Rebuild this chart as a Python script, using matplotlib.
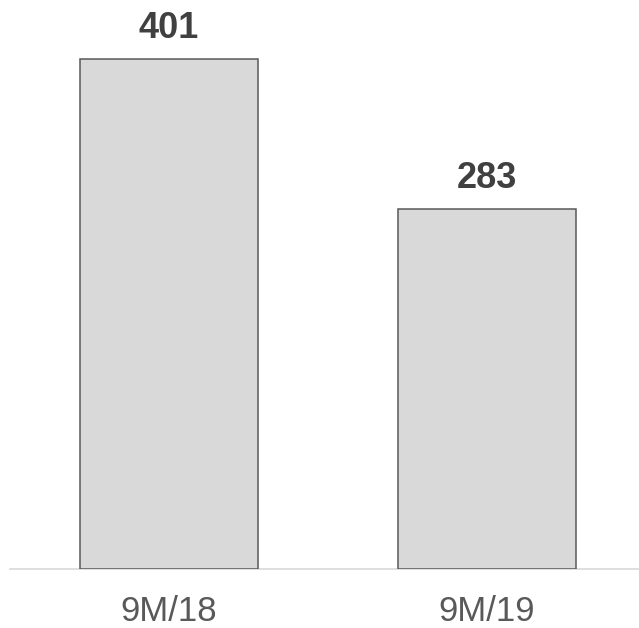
import matplotlib
matplotlib.use("Agg")
import matplotlib.pyplot as plt

plt.rcParams['font.family'] = ['Liberation Sans', 'DejaVu Sans']

periods = ['9M/18', '9M/19']
values = [401, 283]

fig = plt.figure(figsize=(6.39, 6.28), dpi=100)
ax = fig.add_axes([10 / 639, 59 / 628, 629 / 639, 569 / 628])

x = range(len(periods))
bars = ax.bar(x, values, width=0.56, color='#d9d9d9', edgecolor='#595959', linewidth=1.1, zorder=2)

for b, v in zip(bars, values):
    ax.annotate(str(v), (b.get_x() + b.get_width() / 2, b.get_height()),
                xytext=(0, 15), textcoords='offset points', ha='center', va='baseline',
                fontsize=26, fontweight='bold', color='#404040')

ax.set_xlim(-0.5, 1.478)
ax.set_ylim(0, 447)
ax.set_xticks(list(x))
ax.set_xticklabels(periods, fontsize=25, color='#595959')
ax.tick_params(axis='x', length=0, pad=19)
ax.set_yticks([])
for s in ['top', 'right', 'left']:
    ax.spines[s].set_visible(False)
ax.spines['bottom'].set_color('#d9d9d9')
ax.spines['bottom'].set_linewidth(1.2)
ax.spines['bottom'].set_zorder(1)

fig.savefig('out.png', dpi=100)
